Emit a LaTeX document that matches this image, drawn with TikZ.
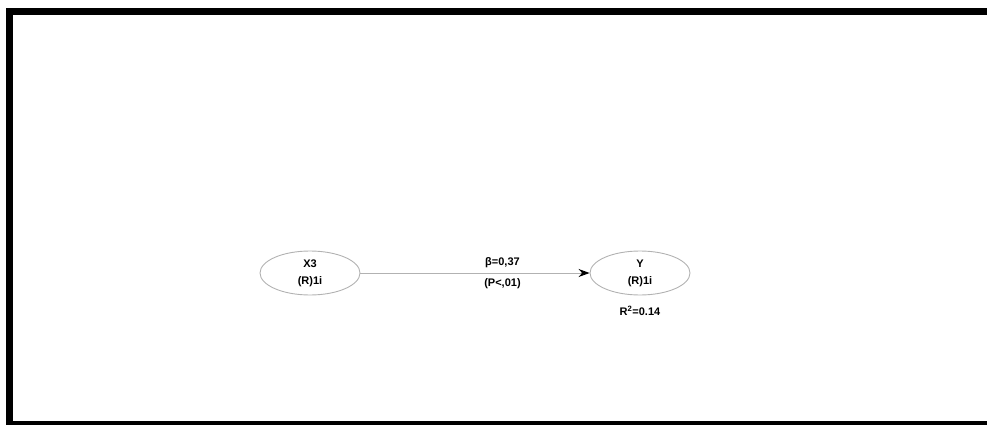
\documentclass[tikz,border=0pt]{standalone}
\usepackage{fontspec}
\setmainfont{Liberation Sans}
\usetikzlibrary{positioning,shapes.geometric,arrows.meta}

\begin{document}
\begin{tikzpicture}[x=1pt,y=-1pt,node distance=330pt,on grid,auto,
			latent/.style={ellipse,draw=gray!60,line width=0.9pt,minimum width=100pt,minimum height=44pt,inner sep=0pt,align=center,font=\bfseries\fontsize{11}{17}\selectfont},
			lbl/.style={font=\bfseries\fontsize{11}{13}\selectfont,inner sep=1pt}]
			\useasboundingbox (0,0) rectangle (987,425);
			\draw[line width=7pt] (1010,11.5) -- (9.5,11.5) -- (9.5,424.5) -- (1010,424.5);
			\node[latent] (x3) at (310,273) {X3\\(R)1i};
			\node[latent] (y) [right=of x3] {Y\\(R)1i};
			\node[lbl] (r2) [below=38pt of y] {R\textsuperscript{2}=0.14};
			\path[draw=gray!60,line width=0.9pt,-{Stealth[black,length=11pt,width=8pt]}]
			(x3) edge node[lbl,pos=0.62,above=4pt] {β=0,37} node[lbl,pos=0.62,below=4pt] {(P<,01)} (y);
		\end{tikzpicture}
\end{document}
